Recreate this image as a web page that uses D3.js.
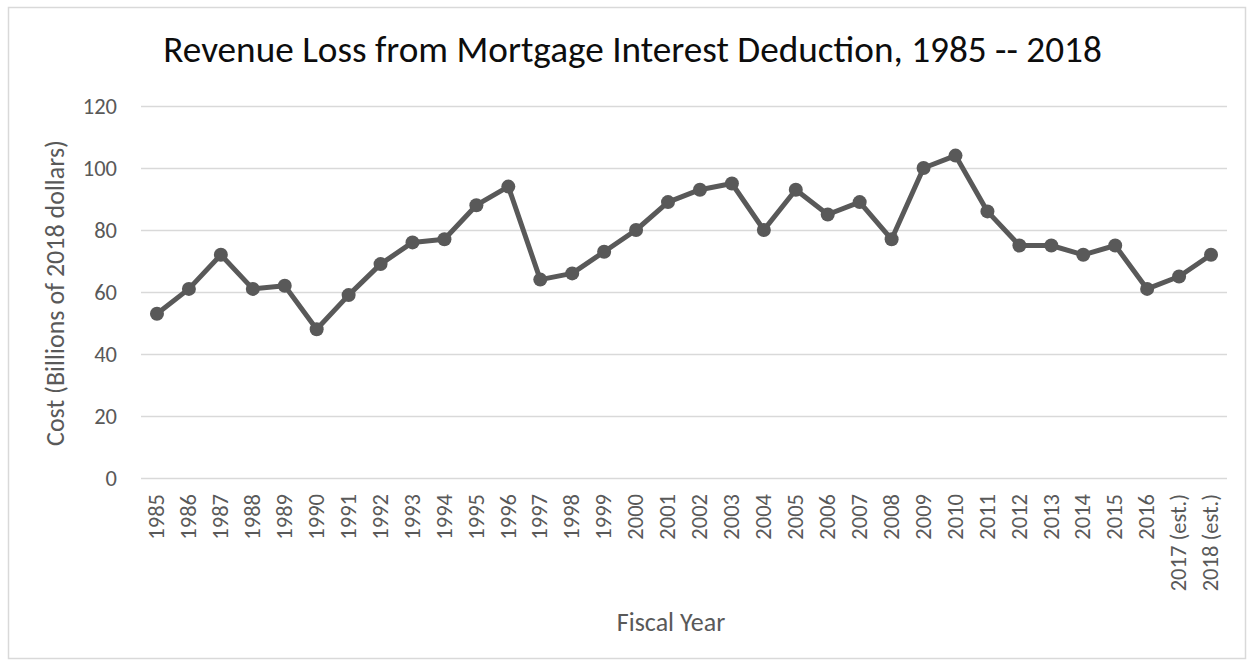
<!DOCTYPE html>
<html><head><meta charset="utf-8">
<script src="https://cdn.jsdelivr.net/npm/d3@7"></script>
<style>body{margin:0;background:#fff}svg{display:block}</style>
</head><body>
<svg id="c" width="1254" height="666"></svg>
<script>
const years = ["1985","1986","1987","1988","1989","1990","1991","1992","1993","1994","1995","1996","1997","1998","1999","2000","2001","2002","2003","2004","2005","2006","2007","2008","2009","2010","2011","2012","2013","2014","2015","2016","2017 (est.)","2018 (est.)"];
const costs = [53,61,72,61,62,48,59,69,76,77,88,94,64,66,73,80,89,93,95,80,93,85,89,77,100,104,86,75,75,72,75,61,65,72];
const yTicks = [0,20,40,60,80,100,120];
const titleText = "Revenue Loss from Mortgage Interest Deduction, 1985 -- 2018";
const yTitle = "Cost (Billions of 2018 dollars)";
const xTitle = "Fiscal Year";

const FONT = "Carlito, Calibri, Lato, 'Open Sans', sans-serif";
const svg = d3.select("#c");
const m = {left:141, right:1227, top:106, bottom:478};

svg.append("rect").attr("x",8.5).attr("y",7.5).attr("width",1237).attr("height",651)
  .attr("fill","#fff").attr("stroke","#d9d9d9").attr("stroke-width",1.5);

const x = d3.scaleBand().domain(years).range([m.left, m.right]);
const y = d3.scaleLinear().domain([0,120]).range([m.bottom, m.top]);

// gridlines + y labels
const yAxis = d3.axisLeft(y).tickValues(yTicks).tickSize(-(m.right-m.left)).tickPadding(24);
const gy = svg.append("g").attr("transform",`translate(${m.left},0)`).call(yAxis);
gy.select(".domain").remove();
gy.selectAll(".tick line").attr("stroke","#d9d9d9").attr("stroke-width",1.5);
gy.selectAll(".tick text").attr("fill","#595959").attr("font-family",FONT).attr("font-size",22.5).attr("dy","0.32em");

// x axis labels
const xAxis = d3.axisBottom(x).tickSize(0).tickPadding(0);
const gx = svg.append("g").attr("transform",`translate(0,${m.bottom})`).call(xAxis);
gx.select(".domain").remove();
gx.selectAll(".tick text")
  .attr("fill","#595959").attr("font-family",FONT).attr("font-size",22.5)
  .attr("transform","translate(0,16) rotate(-90)")
  .attr("text-anchor","end").attr("x",0).attr("y",0).attr("dy","0.32em");

// line + markers
const cx = (i)=>x(years[i])+x.bandwidth()/2;
const line = d3.line().x((d,i)=>cx(i)).y(d=>y(d));
svg.append("path").datum(costs).attr("d",line).attr("fill","none")
  .attr("stroke","#595959").attr("stroke-width",5).attr("stroke-linejoin","round");
svg.append("g").selectAll("circle").data(costs).join("circle")
  .attr("cx",(d,i)=>cx(i)).attr("cy",d=>y(d)).attr("r",7)
  .attr("fill","#595959");

// title
const t = svg.append("text").attr("x",632.5).attr("y",62).attr("text-anchor","middle")
  .attr("font-family",FONT).attr("font-size",37).attr("fill","#0d0d0d").text(titleText);
const tw = t.node().getComputedTextLength();
t.attr("font-size", 37*939/tw);

// axis titles
svg.append("text").attr("transform","translate(64,293) rotate(-90)").attr("text-anchor","middle")
  .attr("font-family",FONT).attr("font-size",26).attr("fill","#595959").text(yTitle);
svg.append("text").attr("x",671).attr("y",631).attr("text-anchor","middle")
  .attr("font-family",FONT).attr("font-size",26).attr("fill","#595959").text(xTitle);
</script>
</body></html>
